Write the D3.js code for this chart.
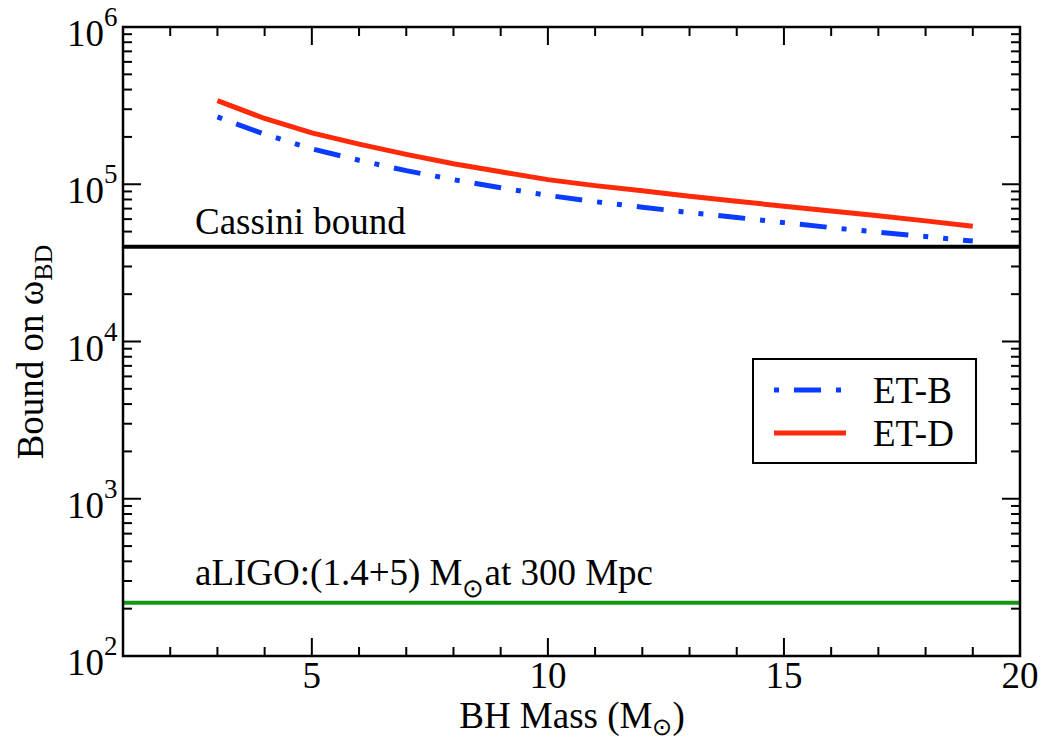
<!DOCTYPE html>
<html>
<head>
<meta charset="utf-8">
<script src="https://cdn.jsdelivr.net/npm/d3@7"></script>
<style>
  html, body { margin: 0; padding: 0; background: #fff; }
</style>
</head>
<body>
<svg id="chart" width="1051" height="740"></svg>
<script>
// Black-hole mass (solar masses) at which each bound is evaluated
const masses = [3, 4, 5, 6, 7, 8, 9, 10, 11, 12, 13, 14, 15, 16, 17, 18, 19];
// Lower bound on the Brans-Dicke parameter for each detector configuration
const etB = [268000, 208000, 168000, 142000, 122000, 107000, 95000, 85000, 77500, 71500, 66000, 61500, 57000, 53000, 49500, 46500, 43500];
const etD = [340000, 262000, 212000, 180000, 155000, 135000, 120000, 107000, 98000, 91000, 84000, 78000, 72500, 67500, 63000, 58500, 54000];
// Reference bounds drawn as horizontal lines
const cassiniBound = 40000;
const aligoBound = 218;
// Axis ticks
const xTicks = [5, 10, 15, 20];
const yExponents = [2, 3, 4, 5, 6];

const FONT = "Liberation Serif";
const m = { left: 123, right: 1020, top: 27, bottom: 656 };
const svg = d3.select("#chart");

const x = d3.scaleLinear().domain([1, 20]).range([m.left, m.right]);
const y = d3.scaleLog().domain([1e2, 1e6]).range([m.bottom, m.top]);

const FS = 37;

function txt(sel) { return sel.attr("font-family", FONT).attr("fill", "#000"); }

// minor ticks
const xMinor = d3.range(2, 20).filter(v => !xTicks.includes(v));
const yMinor = [];
for (let e = 2; e < 6; e++) for (let k = 2; k <= 9; k++) yMinor.push(k * Math.pow(10, e));
const yMajor = yExponents.map(e => Math.pow(10, e));

const MAJ = 18, MIN = 9;
const tickG = svg.append("g").attr("stroke", "#000").attr("stroke-width", 2);

// bottom & top ticks
function hTicks(values, len) {
  tickG.selectAll(null).data(values).enter().append("line")
    .attr("x1", d => x(d)).attr("x2", d => x(d))
    .attr("y1", m.bottom).attr("y2", m.bottom - len);
  tickG.selectAll(null).data(values).enter().append("line")
    .attr("x1", d => x(d)).attr("x2", d => x(d))
    .attr("y1", m.top).attr("y2", m.top + len);
}
hTicks(xMinor, MIN);
hTicks(xTicks, MAJ);

// left & right ticks
function vTicks(values, len) {
  tickG.selectAll(null).data(values).enter().append("line")
    .attr("y1", d => y(d)).attr("y2", d => y(d))
    .attr("x1", m.left).attr("x2", m.left + len);
  tickG.selectAll(null).data(values).enter().append("line")
    .attr("y1", d => y(d)).attr("y2", d => y(d))
    .attr("x1", m.right).attr("x2", m.right - len);
}
vTicks(yMinor, MIN);
vTicks(yMajor, MAJ);

// reference bounds
svg.append("line")
  .attr("x1", m.left).attr("x2", m.right)
  .attr("y1", y(cassiniBound)).attr("y2", y(cassiniBound))
  .attr("stroke", "#000").attr("stroke-width", 4);
svg.append("line")
  .attr("x1", m.left).attr("x2", m.right)
  .attr("y1", y(aligoBound)).attr("y2", y(aligoBound))
  .attr("stroke", "#119911").attr("stroke-width", 4);

// bound curves
const line = d3.line().x(d => x(d[0])).y(d => y(d[1]));
svg.append("path")
  .datum(masses.map((mm, i) => [mm, etD[i]]))
  .attr("d", line).attr("fill", "none")
  .attr("stroke", "#ff2a0a").attr("stroke-width", 5);
svg.append("path")
  .datum(masses.map((mm, i) => [mm, etB[i]]))
  .attr("d", line).attr("fill", "none")
  .attr("stroke", "#0a3cff").attr("stroke-width", 5)
  .attr("stroke-dasharray", "5,15,27,15,5,15");

// frame
svg.append("rect")
  .attr("x", m.left).attr("y", m.top)
  .attr("width", m.right - m.left).attr("height", m.bottom - m.top)
  .attr("fill", "none").attr("stroke", "#000").attr("stroke-width", 2.5);

// x tick labels
svg.selectAll(null).data(xTicks).enter().append("text")
  .call(txt)
  .attr("x", d => x(d)).attr("y", m.bottom + 32)
  .attr("text-anchor", "middle").attr("font-size", FS)
  .text(d => d);

// y tick labels: 10^n
const yl = svg.selectAll(null).data(yExponents).enter().append("text")
  .call(txt)
  .attr("font-size", FS)
  .attr("x", 67).attr("y", d => y(Math.pow(10, d)) + 19);
yl.append("tspan").text("10");
yl.append("tspan").attr("font-size", 27).attr("dy", -20).attr("dx", 0).text(d => d);

// axis titles
const xt = svg.append("text").call(txt)
  .attr("x", 572).attr("y", 728)
  .attr("text-anchor", "middle").attr("font-size", FS);
xt.append("tspan").text("BH Mass (M");
xt.append("tspan").attr("font-size", 24).attr("dy", 7).text("\u2299");
xt.append("tspan").attr("dy", -7).text(")");

const yt = svg.append("text").call(txt)
  .attr("transform", "translate(43,352) rotate(-90)")
  .attr("text-anchor", "middle").attr("font-size", FS);
yt.append("tspan").text("Bound on \u03c9");
yt.append("tspan").attr("font-size", 26).attr("dy", 9).text("BD");

// line annotations
svg.append("text").call(txt)
  .attr("x", 195).attr("y", 234).attr("font-size", FS)
  .text("Cassini bound");
const al = svg.append("text").call(txt)
  .attr("x", 195).attr("y", 585).attr("font-size", FS);
al.append("tspan").text("aLIGO:(1.4+5) M");
al.append("tspan").attr("font-size", 26).attr("dy", 12).text("\u2299");
al.append("tspan").attr("dy", -12).text("at 300 Mpc");

// legend
const lg = svg.append("g");
lg.append("rect")
  .attr("x", 753).attr("y", 359).attr("width", 223).attr("height", 104)
  .attr("fill", "#fff").attr("stroke", "#000").attr("stroke-width", 2);
const legendItems = [
  { name: "ET-B", color: "#0a3cff", dash: "5,15,27,15,5,15", y: 390 },
  { name: "ET-D", color: "#ff2a0a", dash: null, y: 433 }
];
legendItems.forEach(it => {
  lg.append("line")
    .attr("x1", 774).attr("x2", 846).attr("y1", it.y).attr("y2", it.y)
    .attr("stroke", it.color).attr("stroke-width", 5)
    .attr("stroke-dasharray", it.dash);
  lg.append("text").call(txt)
    .attr("x", 873).attr("y", it.y + 13).attr("font-size", FS)
    .text(it.name);
});
</script>
</body>
</html>
